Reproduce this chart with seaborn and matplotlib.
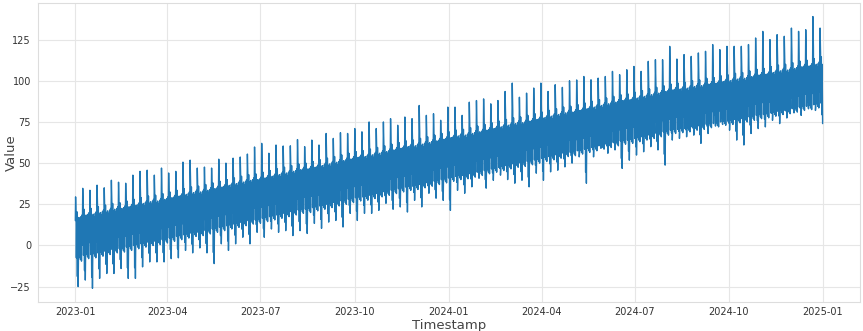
import numpy as np
import pandas as pd
import matplotlib
matplotlib.use("Agg")
import matplotlib.pyplot as plt
import matplotlib.dates as mdates
import seaborn as sns

# Weekly readings of the series (one entry per week, starting 2023-01-01)
week_level = [
    3.0, 4.5, 5.0, 6.0, 7.0, 8.0, 8.5, 9.5, 10.5, 11.5,
    12.5, 13.0, 14.0, 15.0, 16.0, 17.0, 18.0, 18.5, 19.5, 20.5,
    21.5, 22.5, 23.5, 24.5, 25.5, 26.0, 27.0, 28.0, 29.0, 30.0,
    31.0, 32.0, 32.5, 33.5, 34.5, 35.5, 36.5, 37.5, 38.5, 39.5,
    40.0, 41.0, 42.0, 43.0, 44.0, 45.0, 46.0, 46.5, 47.5, 48.5,
    49.5, 50.5, 51.5, 52.5, 53.0, 54.0, 55.0, 56.0, 57.0, 58.0,
    59.0, 60.0, 60.5, 61.5, 62.5, 63.5, 64.5, 65.5, 66.5, 67.0,
    68.0, 69.0, 70.0, 71.0, 72.0, 73.0, 74.0, 74.5, 75.5, 76.5,
    77.5, 78.5, 79.5, 80.5, 81.0, 81.5, 82.5, 83.0, 84.0, 84.5,
    85.5, 86.0, 87.0, 87.5, 88.5, 89.5, 90.0, 91.0, 92.0, 92.5,
    93.5, 94.5, 95.0, 96.0, 97.0,
]
week_peak = [
    29.5, 34.7, 33.5, 36.6, 35.0, 39.6, 38.4, 37.8, 42.7, 45.0,
    45.7, 42.7, 47.0, 44.0, 45.0, 50.6, 51.8, 47.0, 47.6, 47.0,
    52.4, 50.0, 53.0, 53.7, 55.5, 59.8, 62.0, 56.0, 61.0, 60.4,
    60.5, 64.3, 60.0, 64.0, 61.0, 68.0, 65.0, 68.5, 68.0, 71.0,
    69.0, 75.0, 71.0, 75.0, 77.0, 73.0, 78.0, 77.0, 85.0, 79.0,
    80.0, 76.0, 84.0, 84.0, 79.0, 87.0, 88.0, 89.0, 86.0, 88.0,
    93.5, 98.6, 90.0, 92.5, 95.6, 98.6, 93.5, 97.6, 96.0, 100.0,
    100.5, 102.6, 100.6, 101.6, 102.6, 105.7, 103.7, 106.7, 108.7, 105.7,
    111.8, 112.8, 112.8, 120.9, 113.2, 115.9, 114.8, 116.9, 117.9, 122.0,
    118.9, 120.9, 120.9, 120.9, 122.0, 126.0, 130.0, 125.0, 128.0, 127.0,
    132.0, 130.0, 131.0, 139.0, 132.0,
]
week_trough = [
    -25.0, -21.0, -26.0, -20.0, -17.0, -17.0, -14.0, -20.0, -20.0, -13.0,
    -10.0, -10.0, -10.0, -8.0, -7.5, -3.0, -4.5, -1.5, -4.5, -11.0,
    1.0, -3.0, 1.0, 5.0, 1.0, 8.0, 5.0, 10.0, 8.0, 9.0,
    6.0, 9.0, 7.3, 13.4, 10.4, 14.2, 15.2, 11.2, 19.5, 15.2,
    19.5, 19.5, 21.3, 25.6, 22.0, 23.4, 20.3, 27.4, 23.4, 31.7,
    28.7, 27.4, 21.3, 33.5, 31.7, 35.6, 40.8, 34.8, 39.6, 42.7,
    40.0, 37.8, 39.6, 35.6, 43.9, 39.6, 44.7, 45.7, 47.7, 50.0,
    53.8, 37.8, 53.8, 60.0, 56.0, 58.0, 46.8, 51.8, 54.9, 56.9,
    60.0, 58.0, 48.8, 64.0, 65.0, 66.0, 67.0, 62.0, 68.0, 76.0,
    74.0, 70.0, 64.0, 61.0, 68.0, 71.0, 72.0, 76.0, 74.0, 77.4,
    80.5, 79.0, 83.5, 82.0, 74.0,
]

# Within-week shape: daily high / low offsets from the weekly level
weekday_high = [14.0, 17.5, 13.0, 14.0, 12.5, 14.5, 15.5]
weekday_low = [-9.5, -10.5, -11.0, -12.0, -10.0, -11.5, -12.5]
# Six-hourly share of the day's swing (0 = daily low, 1 = daily high)
hour_share = [0.0, 0.6, 1.0, 0.35]
peak_share = [0.6, 1.0, 0.85, 0.65]
trough_share = [0.15, 1.0, 0.45, 0.0]
peak_weekday = 0
trough_weekday = 2

start = pd.Timestamp("2023-01-01")
n_days = 731

stamps, values = [], []
for d in range(n_days):
    w, wd = divmod(d, 7)
    lo = week_level[w] + weekday_low[wd]
    hi = week_level[w] + weekday_high[wd]
    shares = hour_share
    if wd == peak_weekday:
        hi = week_peak[w]
        shares = peak_share
    if wd == trough_weekday:
        lo = week_trough[w]
        shares = trough_share
    for k, s in enumerate(shares):
        stamps.append(start + pd.Timedelta(days=d, hours=6 * k))
        values.append(lo + s * (hi - lo))

df = pd.DataFrame({"Timestamp": stamps, "Value": values})

sns.set_theme(style="whitegrid")
plt.rcParams["font.family"] = ["DejaVu Sans"]

fig = plt.figure(figsize=(8.63, 3.31), dpi=100)
ax = fig.add_axes([0.044, 0.088, 0.9525, 0.903])
sns.lineplot(data=df, x="Timestamp", y="Value", ax=ax, color="#1f77b4",
             linewidth=1.0, estimator=None)

ax.xaxis.set_major_locator(mdates.MonthLocator(bymonth=[1, 4, 7, 10]))
ax.xaxis.set_major_formatter(mdates.DateFormatter("%Y-%m"))
ax.tick_params(axis="both", labelsize=7, colors="#333333", length=0)
ax.tick_params(axis="x", pad=4)
ax.tick_params(axis="y", pad=5)
ax.set_xlabel("Timestamp", fontsize=9.5, color="#444444", labelpad=1)
ax.set_ylabel("Value", fontsize=9.5, color="#444444")
ax.yaxis.set_label_coords(-0.024, 0.5)
ax.grid(True, color="#e6e6e6", linewidth=0.8)
for sp in ax.spines.values():
    sp.set_color("#dddddd")
    sp.set_linewidth(0.8)

fig.savefig("out.png", dpi=100)
